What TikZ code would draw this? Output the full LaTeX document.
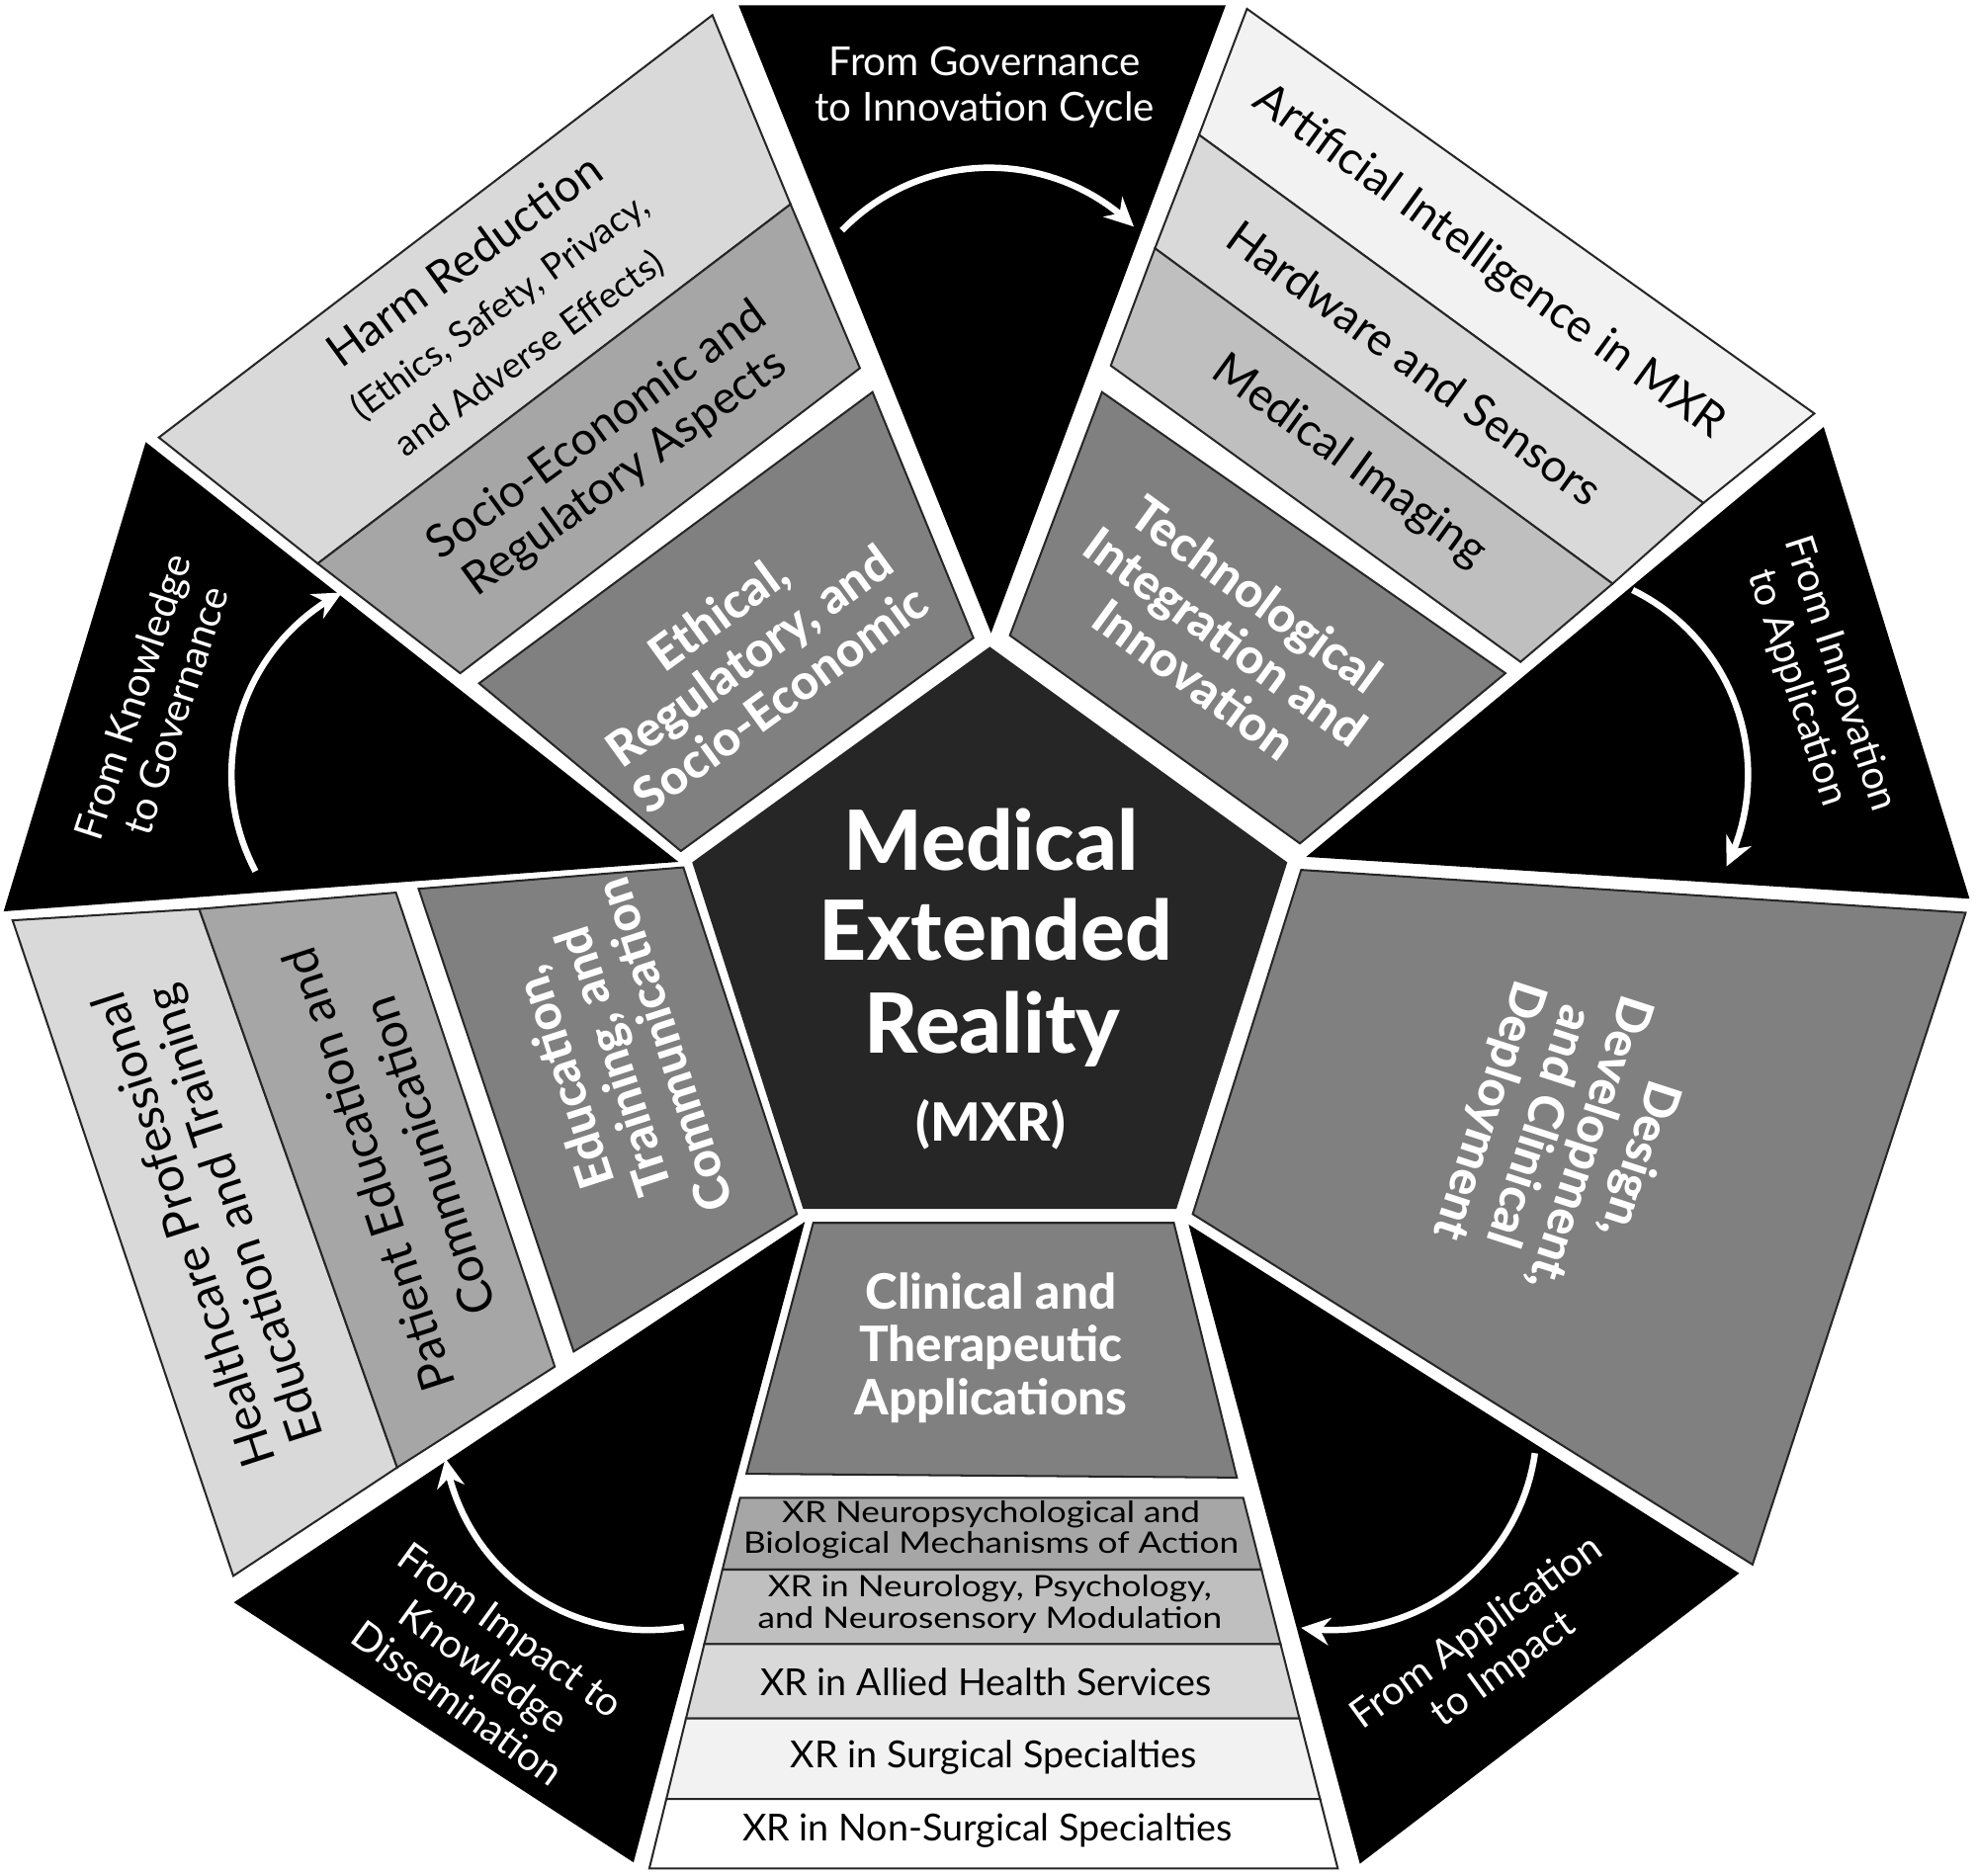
\documentclass[tikz,border=0pt]{standalone}
\usepackage{fontspec}
\setmainfont{Lato}[BoldFont={Lato Heavy}]
\usepackage{graphicx}
\usetikzlibrary{arrows.meta}
\definecolor{pent}{HTML}{262626}
\definecolor{boxg}{HTML}{808080}
\definecolor{ga}{HTML}{F2F2F2}
\definecolor{gb}{HTML}{D9D9D9}
\definecolor{gc}{HTML}{BFBFBF}
\definecolor{gd}{HTML}{A6A6A6}
\begin{document}
\begin{tikzpicture}[x=0.01cm,y=-0.01cm,
  poly/.style={draw=black!85,line width=0.45pt,line join=miter},
  wedge/.style={fill=black,draw=black,line width=0.45pt},
  themebox/.style={poly,fill=boxg},
  boxtxt/.style={text=white,font=\bfseries\fontsize{11}{11.9}\selectfont,align=center,inner sep=0pt},
  striptxt/.style={text=black,font=\fontsize{10.3}{12}\selectfont,inner sep=0pt},
  edustrip/.style={text=black,font=\fontsize{10.8}{12}\selectfont,inner sep=0pt},
  subtxt/.style={text=black,font=\fontsize{8.1}{10}\selectfont,inner sep=0pt},
  cltxt/.style={text=black,font=\fontsize{8.4}{10}\selectfont,inner sep=0pt},
  cltxtb/.style={text=black,font=\fontsize{7.85}{8.2}\selectfont,inner sep=0pt},
  wedgetxt/.style={text=white,font=\fontsize{9}{10.2}\selectfont,align=center,inner sep=0pt},
  bigtxt/.style={text=white,font=\bfseries\fontsize{18.7}{20}\selectfont,anchor=base,inner sep=0pt},
  arr/.style={white,line width=1.45pt,-{Stealth[length=6.5pt,width=6.2pt]}}]
\useasboundingbox (0,0) rectangle (1568,1488);

% ---- black transition wedges
\path[wedge] (587,5) -- (971,5) -- (786,500) -- cycle;
\path[wedge] (1446,340) -- (1561,712) -- (1038,679) -- cycle;
\path[wedge] (944,973) -- (1378,1248) -- (1079,1477) -- cycle;
\path[wedge] (637,971) -- (502,1476) -- (187,1271) -- cycle;
\path[wedge] (116,352) -- (536,683) -- (4,722) -- cycle;

% ---- central pentagon
\path[fill=pent] (785,513) -- (1021,684) -- (933,959) -- (637,959) -- (549,684) -- cycle;

% ---- ethical sector
\path[poly,fill=gb] (126,347) -- (565,12) -- (627,162) -- (252,447) -- cycle;
\path[poly,fill=gd] (252,447) -- (627,162) -- (682,292) -- (365,534) -- cycle;
\path[themebox] (380,542) -- (692,311) -- (772,506) -- (540,675) -- cycle;

% ---- technology sector
\path[poly,fill=ga] (989,7) -- (1439,328) -- (1351,399) -- (951,107) -- cycle;
\path[poly,fill=gb] (951,107) -- (1351,399) -- (1279,463) -- (916,197) -- cycle;
\path[poly,fill=gc] (916,197) -- (1279,463) -- (1206,525) -- (881,290) -- cycle;
\path[themebox] (874,311) -- (1194,534) -- (1031,669) -- (801,504) -- cycle;

% ---- design sector
\path[themebox] (1032,690) -- (1559,724) -- (1390,1241) -- (946,963) -- cycle;

% ---- clinical sector
\path[themebox] (645,970) -- (931,970) -- (981,1172) -- (592,1169) -- cycle;
\path[poly,fill=gd] (587,1188) -- (986,1188) -- (1000.5,1245) -- (573,1245) -- cycle;
\path[poly,fill=gc] (573,1245) -- (1000.5,1245) -- (1015.6,1304) -- (558.6,1304) -- cycle;
\path[poly,fill=gb] (558.6,1304) -- (1015.6,1304) -- (1030.6,1363) -- (544.1,1363) -- cycle;
\path[poly,fill=ga] (544.1,1363) -- (1030.6,1363) -- (1047,1427) -- (528.5,1427) -- cycle;
\path[poly,fill=white] (528.5,1427) -- (1047,1427) -- (1061,1482) -- (515,1482) -- cycle;

% ---- education sector
\path[poly,fill=gb] (10,730) -- (158,721) -- (315,1164) -- (185,1250) -- cycle;
\path[poly,fill=gd] (158,721) -- (314,708) -- (440,1084) -- (315,1164) -- cycle;
\path[themebox] (332,705) -- (542,688) -- (632,963) -- (455,1072) -- cycle;

% ---- cycle arrows
\foreach \k in {0,...,4}{
  \begin{scope}[rotate around={-72*\k:(785,757)}]
    \draw[arr] plot[domain=136:45.5,samples=40] ({785+163*cos(\x)},{296-163*sin(\x)});
  \end{scope}
}

% ---- centre text
\node[bigtxt] (m1) at (786,690) {Medical};
\node[bigtxt] (m2) at (790,762) {Extended};
\node[bigtxt] (m3) at (787,835) {Reality};
\node[bigtxt,font=\bfseries\fontsize{11.9}{13}\selectfont] (m4) at (786,905) {(MXR)};

% ---- theme box labels
\node[boxtxt,rotate=36] (eth) at (594,520) {Ethical,\\Regulatory, and\\Socio-Economic};
\node[boxtxt,rotate=-36] (tech) at (972,505) {Technological\\Integration and\\Innovation};
\node[boxtxt,rotate=-108] (des) at (1240,900) {Design,\\Development,\\and Clinical\\Deployment};
\node[boxtxt] (clin) at (786,1069) {Clinical and\\Therapeutic\\Applications};
\node[boxtxt,rotate=108] (edu) at (486,842) {Education,\\Training, and\\Communication};

% ---- strip labels
\node[striptxt,rotate=36] (harm1) at (368,206) {Harm Reduction};
\node[subtxt,rotate=36] (harm2) at (397,244) {(Ethics, Safety, Privacy,};
\node[subtxt,rotate=36] (harm3) at (420,281) {and Adverse Effects)};
\node[striptxt,rotate=36] (soc1) at (472,340) {Socio-Economic and};
\node[striptxt,rotate=36] (soc2) at (496,376) {Regulatory Aspects};
\node[striptxt,rotate=-36] (ai) at (1181,208) {Artificial Intelligence in MXR};
\node[striptxt,rotate=-36] (hw) at (1122,288) {Hardware and Sensors};
\node[striptxt,rotate=-36] (mi) at (1070,366) {Medical Imaging};
\node[edustrip,rotate=108] (hc1) at (145,976) {Healthcare Professional};
\node[edustrip,rotate=108] (hc2) at (188,962) {Education and Training};
\node[edustrip,rotate=108] (pt1) at (292,928) {Patient Education and};
\node[edustrip,rotate=108] (pt2) at (340,917) {Communication};
\node[cltxtb] (cs1) at (786,1215) {\scalebox{1}[0.85]{\begin{tabular}{@{}c@{}}XR Neuropsychological and\\Biological Mechanisms of Action\end{tabular}}};
\node[cltxtb] (cs2) at (785,1274) {\scalebox{1}[0.85]{\begin{tabular}{@{}c@{}}XR in Neurology, Psychology,\\and Neurosensory Modulation\end{tabular}}};
\node[cltxt] (cs3) at (782,1334) {XR in Allied Health Services};
\node[cltxt] (cs4) at (788,1394) {XR in Surgical Specialties};
\node[cltxt] (cs5) at (783,1452) {XR in Non-Surgical Specialties};

% ---- transition labels
\node[wedgetxt] (w1) at (781,69) {From Governance\\to Innovation Cycle};
\node[wedgetxt,rotate=-72] (w2) at (1442,540) {From Innovation\\to Application};
\node[wedgetxt,rotate=36] (w3) at (1182,1310) {From Application\\to Impact};
\node[wedgetxt,rotate=-36] (w4) at (384,1322) {From Impact to\\Knowledge\\Dissemination};
\node[wedgetxt,rotate=72] (w5) at (122,558) {From Knowledge\\to Governance};
\end{tikzpicture}
\end{document}
